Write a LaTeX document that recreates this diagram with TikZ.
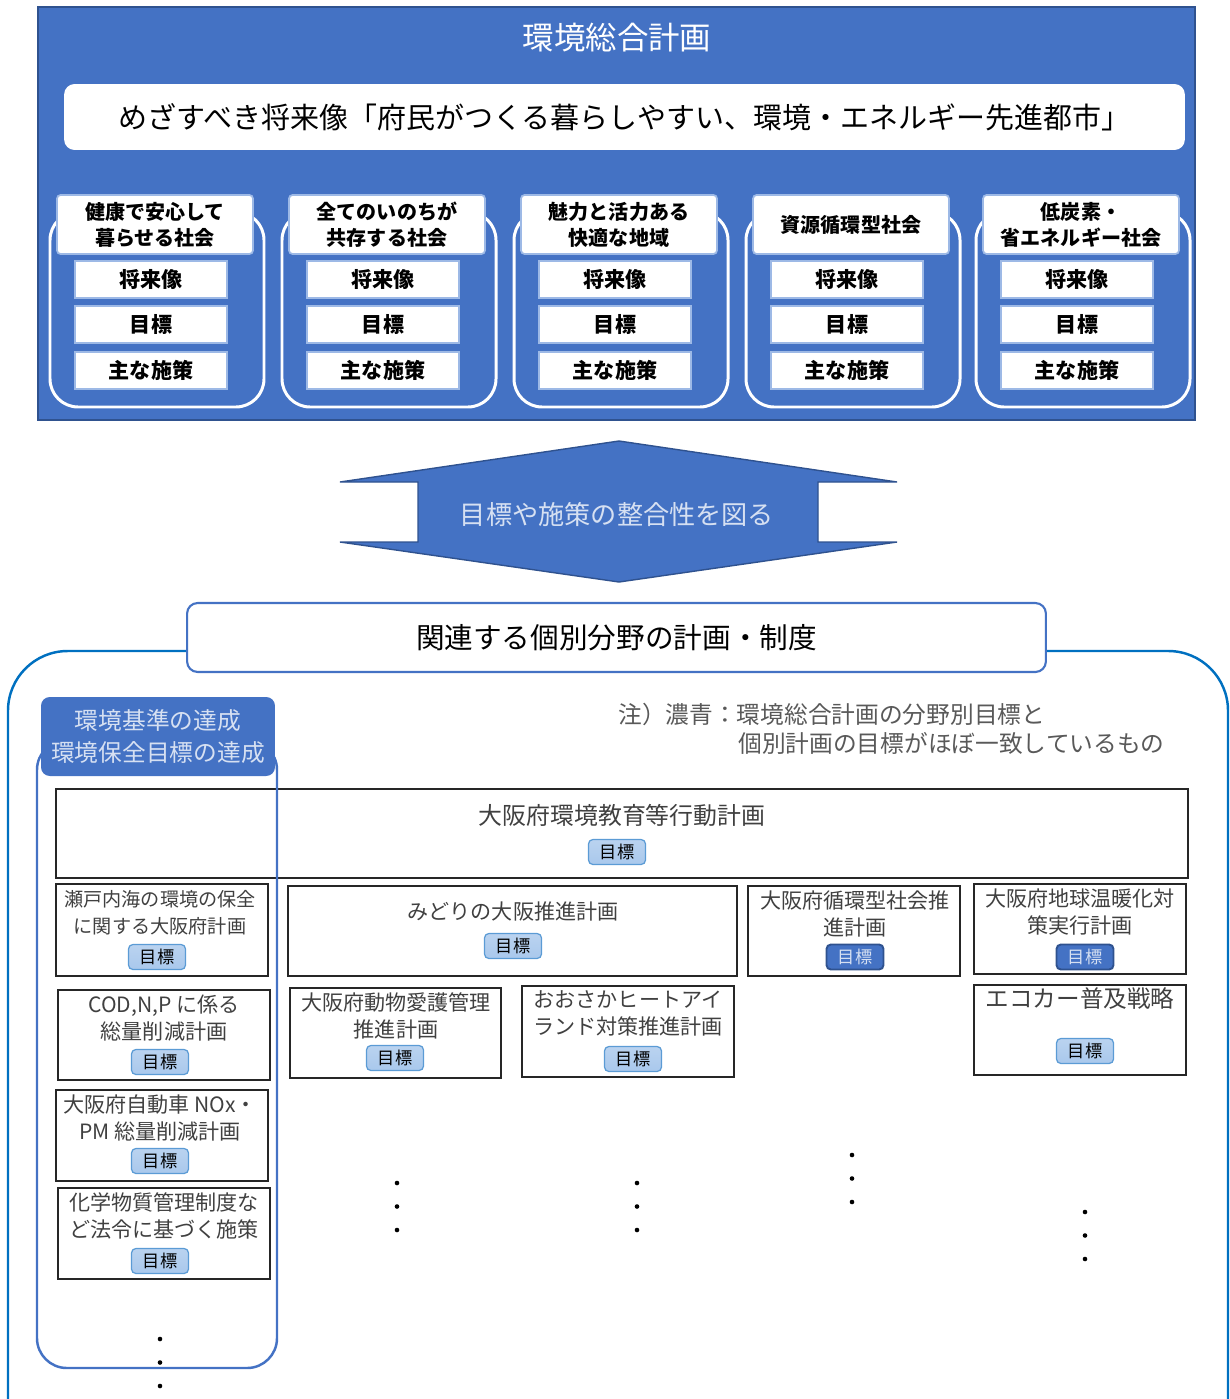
\documentclass[tikz,border=0pt]{standalone}
\usepackage{fontspec}
\setmainfont{Noto Sans CJK JP}
\usetikzlibrary{positioning,fit}

\definecolor{planblue}{HTML}{4472C4}
\definecolor{planbluedark}{HTML}{2F528F}
\definecolor{frameblue}{HTML}{0070C0}
\definecolor{headline}{HTML}{9DB9E6}
\definecolor{lighttext}{HTML}{D6E0F2}
\definecolor{plangray}{HTML}{404040}
\definecolor{notegray}{HTML}{595959}
\definecolor{badgefill}{HTML}{A9C8EC}
\definecolor{badgeline}{HTML}{5B9BD5}

\tikzset{
	catframe/.style={draw=white, line width=1.7pt, rounded corners=16pt},
	cathead/.style={draw=headline, line width=1pt, fill=white, rounded corners=2pt, minimum width=3.92cm, minimum height=1.18cm, inner sep=0pt, align=center, font=\fontsize{11.4}{14.7}\selectfont\bfseries},
	catitem/.style={draw=headline, line width=1pt, fill=white, minimum width=3.04cm, minimum height=0.74cm, inner sep=0pt, font=\fontsize{12}{14}\selectfont\bfseries},
	planbox/.style={draw=black!85, line width=0.85pt, inner sep=0pt},
	plantext/.style={text=plangray, align=center, inner sep=0pt, font=\fontsize{12}{15.3}\selectfont},
	goalbadge/.style={draw=badgeline, line width=0.7pt, top color=badgefill!80, bottom color=badgefill, rounded corners=2.5pt, minimum width=1.14cm, minimum height=0.5cm, inner sep=0pt, font=\fontsize{9.8}{12}\selectfont},
	goaldark/.style={goalbadge, draw=planbluedark, line width=1.1pt, top color=planblue, bottom color=planblue, text=lighttext},
}

\begin{document}
\begin{tikzpicture}[x=0.02cm, y=-0.02cm]
	\useasboundingbox (0,0) rectangle (1230,1399);
	\clip (0,0) rectangle (1230,1399);
	\draw[fill=planblue, draw=planbluedark, line width=1.1pt] (38,7) rectangle (1195,420);
	\node[text=white, font=\fontsize{17.9}{20}\selectfont] (title) at (617,38) {環境総合計画};
	\node[fill=white, rounded corners=6pt, minimum width=22.42cm, minimum height=1.32cm, font=\fontsize{16.5}{18}\selectfont] (vision) at (624.5,117) {めざすべき将来像「府民がつくる暮らしやすい、環境・エネルギー先進都市」};
	\foreach \gn/\gx in {health/155, life/387, region/619, recycle/851, carbon/1081}{
	\pgfmathsetmacro\ix{\gx-4}
	\draw[catframe] (\gx-105,212) rectangle (\gx+109,407);
	\node[catitem] (\gn-vision) at (\ix,279.5) {将来像};
	\node[catitem] (\gn-target) at (\ix,324.5) {目標};
	\node[catitem] (\gn-policy) at (\ix,370.5) {主な施策};
	}
	\node[cathead] (health) at (155,224.5) {健康で安心して\\暮らせる社会};
	\node[cathead] (life) at (387,224.5) {全てのいのちが\\共存する社会};
	\node[cathead] (region) at (619,224.5) {魅力と活力ある\\快適な地域};
	\node[cathead] (recycle) at (851,224.5) {資源循環型社会};
	\node[cathead] (carbon) at (1081,224.5) {低炭素・\\省エネルギー社会};
	\draw[fill=planblue, draw=planbluedark, line width=0.8pt] (619,441) -- (897,482) -- (818,482) -- (818,542) -- (897,542) -- (619,582) -- (340,542) -- (418,542) -- (418,482) -- (340,482) -- cycle;
	\node[text=lighttext, font=\fontsize{14.9}{17}\selectfont] (arrowtext) at (617,515) {目標や施策の整合性を図る};
	\draw[draw=frameblue, line width=1.4pt, rounded corners=34pt] (8,651) rectangle (1228,1470);
	\node[draw=planblue, line width=1.2pt, fill=white, rounded corners=6pt, minimum width=17.18cm, minimum height=1.38cm, font=\fontsize{16.3}{18}\selectfont] (related) at (616.5,637.5) {関連する個別分野の計画・制度};
	\node[anchor=west, text=notegray, inner sep=0pt, font=\fontsize{13.5}{15}\selectfont] (note1) at (618,714) {注）濃青：環境総合計画の分野別目標と};
	\node[anchor=west, text=notegray, inner sep=0pt, font=\fontsize{13.5}{15}\selectfont] (note2) at (738,743) {個別計画の目標がほぼ一致しているもの};
	\foreach \nm/\ax/\ay/\bx/\by/\bgx/\bgy/\gs in {
		edu/56/789/1188/878/617/852/goalbadge,
		setouchi/56/884/268/976/157/957/goalbadge,
		midori/288/886/737/976/513/946/goalbadge,
		junkan/748/886/960/976/855/957/goaldark,
		ondanka/974/884/1186/974/1085/957/goaldark,
		cod/58/990/270/1080/160/1062/goalbadge,
		dobutsu/290/988/501/1078/395/1058/goalbadge,
		heat/522/986/734/1077/633/1059/goalbadge,
		ecocar/974/985/1186/1075/1085/1051/goalbadge,
		nox/56/1090/268/1181/160/1161/goalbadge,
		kagaku/58/1188/270/1279/160/1261/goalbadge}{
	\node[planbox, fit={(\ax,\ay) (\bx,\by)}] (\nm) {};
	\node[\gs] (\nm-goal) at (\bgx,\bgy) {目標};
	}
	\node[plantext, font=\fontsize{13.6}{15.3}\selectfont] (edu-text) at (622,815) {大阪府環境教育等行動計画};
	\node[plantext, font=\fontsize{10.9}{15.3}\selectfont] (setouchi-text) at (160,913) {瀬戸内海の環境の保全\\に関する大阪府計画};
	\node[plantext] (midori-text) at (513,911) {みどりの大阪推進計画};
	\node[plantext] (junkan-text) at (855,914) {大阪府循環型社会推\\進計画};
	\node[plantext] (ondanka-text) at (1080,912) {大阪府地球温暖化対\\策実行計画};
	\node[plantext] (cod-text) at (164,1018) {COD,N,P に係る\\総量削減計画};
	\node[plantext] (dobutsu-text) at (396,1016) {大阪府動物愛護管理\\推進計画};
	\node[plantext] (heat-text) at (628,1013) {おおさかヒートアイ\\ランド対策推進計画};
	\node[plantext, font=\fontsize{13.4}{15.3}\selectfont] (ecocar-text) at (1080,999) {エコカー普及戦略};
	\node[plantext] (nox-text) at (160,1118) {大阪府自動車 NOx・\\PM 総量削減計画};
	\node[plantext] (kagaku-text) at (164,1216) {化学物質管理制度な\\ど法令に基づく施策};
	\draw[draw=planblue, line width=1.4pt, rounded corners=17pt] (37,740) rectangle (277,1368);
	\node[fill=planblue, rounded corners=5pt, minimum width=4.68cm, minimum height=1.58cm, inner sep=0pt, align=center, text=lighttext, font=\fontsize{13.5}{18}\selectfont] (standard) at (158,736.5) {環境基準の達成\\環境保全目標の達成};
	\foreach \dx/\dy in {160/1339, 397/1183, 637/1183, 852/1155, 1085/1212}{
		\foreach \k in {0,1,2}
			\fill (\dx,\dy+23.5*\k) circle (2.3);
	}
\end{tikzpicture}
\end{document}
